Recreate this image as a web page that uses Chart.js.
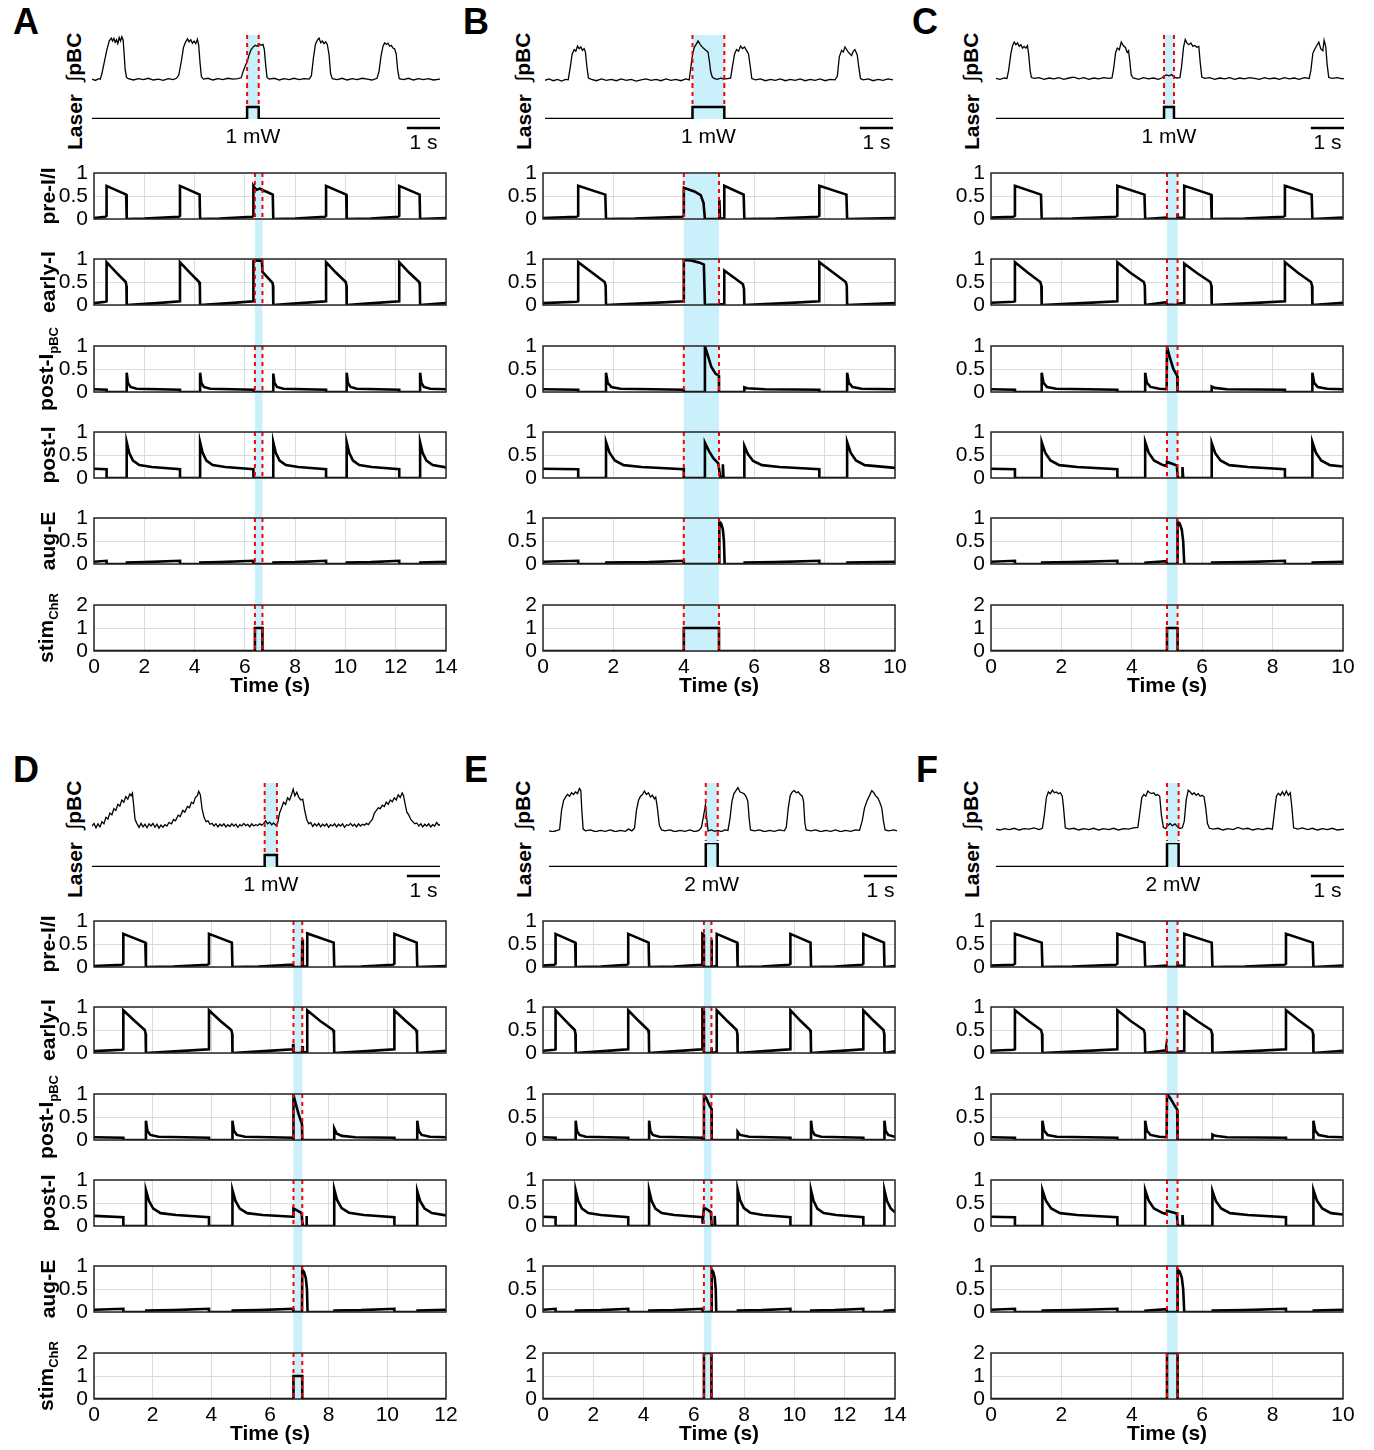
<!DOCTYPE html>
<html>
<head>
<meta charset="utf-8">
<title>Optogenetic stimulation of pBC: recordings and model traces</title>
<script src="https://cdn.jsdelivr.net/npm/chart.js@4.4.1/dist/chart.umd.min.js"></script>
<style>
  body { margin: 0; background: #fff; }
  #stage { position: relative; width: 1374px; height: 1450px; overflow: hidden;
           font-family: "Liberation Sans", Arial, sans-serif; color: #000; }
  #stage canvas { position: absolute; }
  .lbl { position: absolute; white-space: nowrap; line-height: 1; transform: translate(-50%, -50%); }
  .rot { transform: translate(-50%, -50%) rotate(-90deg); font-weight: bold; font-size: 21px; }
  .rot sub { font-size: 13px; vertical-align: -5px; }
  .big { font-size: 21px; }
  .letter { font-weight: bold; font-size: 36px; }
</style>
</head>
<body>
<div id="stage"></div>
<script>
// ---- panels, time ranges, stimulus windows ----
const panels = ['A', 'B', 'C', 'D', 'E', 'F'];
const timeMax = [14, 10, 10, 12, 14, 10];          // model time axis (s)
const stimOn = [6.4, 4.0, 5.0, 6.8, 6.4, 5.0];
const stimOff = [6.7, 5.0, 5.3, 7.1, 6.7, 5.3];
const stimLevel = [1, 1, 1, 1, 2, 2];
const laserOn = [4.68, 4.45, 5.07, 5.21, 4.73, 5.16];  // recording time (s)
const laserOff = [5.03, 5.41, 5.37, 5.58, 5.09, 5.51];
const laserPower = [1, 1, 1, 1, 2, 2];               // mW
const recordLength = 10.5;
const rowLabels = ['pre-I/I', 'early-I', 'post-I<sub>pBC</sub>', 'post-I', 'aug-E', 'stim<sub>ChR</sub>'];
const unitTicks = [0, 0.5, 1];
const stimTicks = [0, 1, 2];

// ---- integrated pBC recordings [t, a.u.] ----
const pbcA = [[0,0.02],[0.1,-0.01],[0.2,0.03],[0.25,0.02],[0.3,0.15],[0.38,0.45],[0.45,0.7],[0.52,0.9],[0.58,0.97],[0.62,0.9],[0.66,0.96],[0.7,0.87],[0.74,0.93],[0.78,0.84],[0.82,0.98],[0.86,0.9],[0.9,1.0],[0.94,0.92],[0.97,0.6],[1.0,0.25],[1.04,0.06],[1.1,0.03],[1.25,0.0],[1.4,0.03],[1.55,0.01],[1.7,0.04],[1.85,0.0],[2.0,0.02],[2.15,-0.01],[2.3,0.03],[2.45,0.01],[2.55,0.04],[2.62,0.12],[2.7,0.45],[2.76,0.75],[2.82,0.87],[2.88,0.95],[2.93,0.88],[2.98,0.93],[3.03,0.85],[3.08,0.9],[3.13,0.84],[3.18,0.94],[3.22,0.8],[3.26,0.4],[3.3,0.08],[3.36,0.02],[3.5,0.04],[3.65,0.0],[3.8,0.03],[3.95,0.01],[4.1,0.04],[4.25,0.02],[4.4,0.03],[4.5,0.05],[4.56,0.2],[4.62,0.32],[4.68,0.42],[4.74,0.58],[4.8,0.7],[4.86,0.76],[4.92,0.8],[4.98,0.78],[5.04,0.84],[5.1,0.8],[5.16,0.82],[5.2,0.7],[5.24,0.35],[5.28,0.06],[5.35,0.02],[5.5,0.04],[5.65,0.0],[5.8,0.03],[5.95,0.01],[6.1,0.04],[6.25,0.01],[6.4,0.03],[6.55,0.02],[6.62,0.1],[6.68,0.5],[6.74,0.82],[6.8,0.92],[6.85,0.97],[6.9,0.86],[6.95,0.9],[7.0,0.84],[7.05,0.88],[7.1,0.82],[7.15,0.6],[7.2,0.15],[7.25,0.03],[7.4,0.01],[7.55,0.04],[7.7,0.0],[7.85,0.03],[8.0,0.01],[8.15,0.04],[8.3,0.02],[8.45,0.0],[8.6,0.04],[8.66,0.2],[8.72,0.55],[8.78,0.78],[8.83,0.86],[8.88,0.82],[8.93,0.85],[8.98,0.78],[9.03,0.8],[9.08,0.74],[9.13,0.72],[9.18,0.6],[9.22,0.25],[9.27,0.03],[9.4,0.01],[9.55,0.04],[9.7,0.0],[9.85,0.03],[10.0,0.01],[10.15,0.03],[10.3,0.0],[10.5,0.02]];
const pbcB = [[0,0.01],[0.12,0.04],[0.25,0.0],[0.38,0.03],[0.5,-0.01],[0.62,0.03],[0.7,0.02],[0.76,0.3],[0.82,0.62],[0.88,0.72],[0.93,0.68],[0.98,0.8],[1.03,0.74],[1.08,0.78],[1.13,0.7],[1.18,0.74],[1.22,0.66],[1.26,0.35],[1.31,0.06],[1.4,0.03],[1.55,0.0],[1.7,0.04],[1.85,0.01],[2.0,0.03],[2.15,0.0],[2.3,0.04],[2.45,0.01],[2.6,0.03],[2.75,-0.01],[2.9,0.02],[3.05,0.04],[3.2,0.01],[3.35,0.03],[3.5,0.0],[3.65,0.04],[3.8,0.01],[3.95,0.03],[4.1,0.0],[4.25,0.04],[4.35,0.02],[4.4,0.3],[4.45,0.6],[4.5,0.76],[4.56,0.84],[4.62,0.92],[4.68,0.84],[4.74,0.78],[4.8,0.74],[4.86,0.7],[4.92,0.66],[4.96,0.45],[5.0,0.2],[5.05,0.08],[5.12,0.05],[5.2,0.03],[5.3,0.06],[5.4,0.04],[5.5,0.05],[5.6,0.06],[5.65,0.3],[5.72,0.62],[5.78,0.72],[5.84,0.68],[5.9,0.8],[5.96,0.74],[6.02,0.78],[6.08,0.7],[6.14,0.62],[6.19,0.35],[6.24,0.05],[6.35,0.02],[6.5,0.04],[6.65,0.0],[6.8,0.03],[6.95,0.01],[7.1,0.04],[7.25,0.0],[7.4,0.03],[7.55,0.01],[7.7,0.04],[7.85,0.0],[8.0,0.03],[8.15,0.01],[8.3,0.04],[8.45,0.0],[8.6,0.03],[8.75,0.02],[8.82,0.1],[8.88,0.55],[8.95,0.7],[9.0,0.66],[9.05,0.78],[9.1,0.72],[9.15,0.66],[9.2,0.62],[9.25,0.58],[9.3,0.68],[9.35,0.72],[9.42,0.6],[9.47,0.3],[9.52,0.05],[9.6,0.02],[9.75,0.04],[9.9,0.0],[10.05,0.03],[10.2,0.01],[10.35,0.04],[10.5,0.02]];
const pbcC = [[0,0.02],[0.12,0.0],[0.25,0.03],[0.33,0.02],[0.38,0.2],[0.45,0.6],[0.5,0.78],[0.55,0.86],[0.6,0.8],[0.65,0.84],[0.7,0.76],[0.75,0.8],[0.8,0.72],[0.85,0.76],[0.9,0.72],[0.95,0.78],[0.99,0.55],[1.03,0.2],[1.07,0.04],[1.15,0.02],[1.3,0.04],[1.45,0.0],[1.6,0.03],[1.75,0.01],[1.9,0.04],[2.05,0.0],[2.2,0.03],[2.35,0.05],[2.5,0.01],[2.65,0.04],[2.8,0.0],[2.95,0.03],[3.1,0.01],[3.25,0.04],[3.4,0.02],[3.5,0.03],[3.55,0.25],[3.61,0.62],[3.66,0.72],[3.72,0.68],[3.78,0.86],[3.84,0.78],[3.9,0.74],[3.96,0.62],[4.0,0.66],[4.04,0.4],[4.08,0.1],[4.14,0.03],[4.3,0.0],[4.45,0.04],[4.6,0.01],[4.75,0.03],[4.9,0.0],[5.0,0.03],[5.08,0.08],[5.15,0.1],[5.22,0.08],[5.3,0.11],[5.36,0.06],[5.45,0.03],[5.55,0.04],[5.6,0.3],[5.66,0.75],[5.71,0.92],[5.76,0.84],[5.82,0.8],[5.88,0.84],[5.94,0.76],[6.0,0.78],[6.06,0.74],[6.12,0.76],[6.16,0.4],[6.21,0.05],[6.3,0.02],[6.45,0.04],[6.6,0.0],[6.75,0.03],[6.9,0.01],[7.05,0.04],[7.2,0.0],[7.35,0.03],[7.5,0.01],[7.65,0.04],[7.8,0.02],[7.95,0.0],[8.1,0.04],[8.25,0.01],[8.4,0.03],[8.55,0.0],[8.7,0.04],[8.85,0.01],[9.0,0.03],[9.15,0.0],[9.3,0.04],[9.45,0.02],[9.5,0.2],[9.56,0.6],[9.62,0.7],[9.68,0.78],[9.74,0.86],[9.8,0.7],[9.86,0.66],[9.9,0.9],[9.95,0.75],[9.99,0.35],[10.04,0.04],[10.15,0.02],[10.3,0.04],[10.45,0.01],[10.5,0.02]];
const pbcD = [[0,0.0],[0.06,0.06],[0.12,-0.04],[0.18,0.05],[0.24,-0.02],[0.3,0.1],[0.36,0.05],[0.42,0.2],[0.48,0.16],[0.54,0.3],[0.6,0.26],[0.66,0.4],[0.72,0.36],[0.78,0.5],[0.84,0.46],[0.9,0.6],[0.96,0.55],[1.02,0.68],[1.08,0.62],[1.14,0.74],[1.18,0.7],[1.22,0.76],[1.26,0.45],[1.3,0.15],[1.36,0.05],[1.42,-0.03],[1.48,0.06],[1.54,-0.02],[1.6,0.04],[1.66,-0.04],[1.72,0.05],[1.78,0.0],[1.84,0.06],[1.9,-0.03],[1.96,0.04],[2.02,-0.05],[2.08,0.02],[2.14,-0.03],[2.2,0.03],[2.26,0.0],[2.32,0.08],[2.4,0.05],[2.46,0.15],[2.52,0.12],[2.6,0.25],[2.66,0.22],[2.74,0.36],[2.8,0.32],[2.88,0.45],[2.94,0.42],[3.0,0.55],[3.06,0.52],[3.12,0.66],[3.18,0.7],[3.22,0.8],[3.27,0.72],[3.32,0.4],[3.38,0.2],[3.44,0.1],[3.5,0.12],[3.56,0.04],[3.62,0.06],[3.68,0.0],[3.74,0.05],[3.8,-0.02],[3.86,0.04],[3.92,0.0],[3.98,0.05],[4.04,-0.02],[4.1,0.03],[4.16,-0.01],[4.22,0.05],[4.28,0.0],[4.34,0.04],[4.4,-0.03],[4.46,0.03],[4.52,0.0],[4.58,0.06],[4.64,0.01],[4.7,0.04],[4.76,-0.02],[4.82,0.05],[4.88,0.0],[4.94,0.03],[5.0,0.01],[5.06,0.05],[5.12,0.02],[5.18,0.06],[5.24,0.12],[5.3,0.05],[5.36,0.09],[5.42,0.03],[5.48,0.07],[5.54,0.02],[5.6,0.06],[5.66,0.3],[5.72,0.42],[5.78,0.55],[5.84,0.5],[5.9,0.65],[5.96,0.6],[6.02,0.72],[6.07,0.85],[6.12,0.7],[6.18,0.78],[6.24,0.66],[6.3,0.6],[6.36,0.62],[6.42,0.35],[6.48,0.15],[6.54,0.05],[6.6,0.08],[6.66,-0.01],[6.72,0.05],[6.78,0.0],[6.84,0.06],[6.9,-0.02],[6.96,0.04],[7.02,0.0],[7.08,0.05],[7.14,-0.03],[7.2,0.03],[7.26,0.0],[7.32,0.05],[7.38,-0.02],[7.44,0.04],[7.5,0.0],[7.56,0.05],[7.62,-0.03],[7.68,0.03],[7.74,0.01],[7.8,0.06],[7.86,0.0],[7.92,0.04],[7.98,-0.02],[8.04,0.05],[8.1,0.0],[8.16,0.04],[8.22,0.02],[8.28,0.06],[8.34,0.03],[8.4,0.1],[8.46,0.15],[8.52,0.3],[8.58,0.36],[8.64,0.42],[8.7,0.4],[8.76,0.48],[8.82,0.45],[8.88,0.55],[8.94,0.5],[9.0,0.6],[9.06,0.56],[9.12,0.65],[9.18,0.6],[9.24,0.72],[9.3,0.66],[9.36,0.76],[9.4,0.7],[9.45,0.5],[9.5,0.32],[9.56,0.25],[9.62,0.15],[9.68,0.1],[9.74,0.05],[9.8,0.07],[9.86,0.0],[9.92,0.05],[9.98,-0.02],[10.04,0.04],[10.1,0.0],[10.16,0.05],[10.22,-0.02],[10.28,0.03],[10.34,0.0],[10.4,0.08],[10.46,0.02],[10.5,0.03]];
const pbcE = [[0,0.02],[0.12,0.0],[0.25,0.03],[0.32,0.05],[0.38,0.5],[0.44,0.72],[0.5,0.8],[0.56,0.86],[0.62,0.82],[0.68,0.9],[0.74,0.86],[0.8,0.92],[0.86,0.88],[0.92,1.0],[0.96,0.95],[0.99,0.5],[1.03,0.06],[1.1,0.02],[1.25,0.04],[1.4,0.0],[1.55,0.03],[1.7,0.01],[1.85,0.04],[2.0,0.0],[2.15,0.03],[2.3,0.01],[2.4,0.06],[2.5,0.02],[2.58,0.08],[2.64,0.5],[2.7,0.72],[2.76,0.82],[2.82,0.86],[2.88,0.94],[2.94,0.86],[3.0,0.9],[3.06,0.8],[3.12,0.84],[3.18,0.76],[3.22,0.8],[3.27,0.55],[3.33,0.15],[3.4,0.04],[3.5,0.02],[3.65,0.04],[3.8,0.0],[3.95,0.03],[4.1,0.01],[4.25,0.04],[4.4,0.0],[4.52,0.03],[4.6,0.1],[4.66,0.35],[4.72,0.62],[4.76,0.3],[4.8,0.02],[4.9,0.04],[5.0,0.01],[5.1,0.03],[5.2,0.0],[5.3,0.04],[5.4,0.03],[5.46,0.3],[5.52,0.7],[5.58,0.88],[5.64,0.95],[5.7,1.02],[5.76,0.92],[5.82,0.9],[5.88,0.88],[5.94,0.82],[6.0,0.7],[6.04,0.3],[6.08,0.04],[6.2,0.02],[6.35,0.04],[6.5,0.0],[6.65,0.03],[6.8,0.01],[6.95,0.04],[7.1,0.02],[7.16,0.1],[7.22,0.55],[7.28,0.84],[7.34,0.92],[7.4,0.95],[7.46,0.9],[7.52,0.92],[7.58,0.86],[7.64,0.82],[7.68,0.7],[7.72,0.2],[7.76,0.04],[7.9,0.02],[8.05,0.04],[8.2,0.0],[8.35,0.03],[8.5,0.01],[8.65,0.04],[8.8,0.0],[8.95,0.03],[9.1,0.01],[9.25,0.04],[9.37,0.03],[9.45,0.25],[9.52,0.55],[9.6,0.72],[9.68,0.85],[9.74,0.95],[9.8,0.9],[9.86,0.82],[9.92,0.78],[9.98,0.68],[10.04,0.55],[10.09,0.25],[10.14,0.04],[10.25,0.02],[10.4,0.04],[10.5,0.02]];
const pbcF = [[0,0.02],[0.12,0.0],[0.25,0.03],[0.4,0.01],[0.55,0.04],[0.7,0.0],[0.85,0.03],[1.0,0.02],[1.15,0.05],[1.3,0.01],[1.4,0.04],[1.46,0.35],[1.52,0.75],[1.58,0.88],[1.64,0.84],[1.7,0.92],[1.76,0.86],[1.82,0.88],[1.88,0.84],[1.94,0.86],[2.0,0.78],[2.04,0.5],[2.09,0.05],[2.2,0.02],[2.35,0.04],[2.5,0.0],[2.65,0.03],[2.8,0.01],[2.95,0.04],[3.1,0.0],[3.25,0.03],[3.4,0.01],[3.55,0.04],[3.7,0.0],[3.85,0.03],[4.0,0.02],[4.15,0.05],[4.28,0.06],[4.34,0.4],[4.4,0.75],[4.46,0.82],[4.52,0.78],[4.58,0.9],[4.64,0.86],[4.7,0.84],[4.76,0.86],[4.82,0.8],[4.88,0.82],[4.94,0.78],[4.99,0.35],[5.05,0.06],[5.12,0.03],[5.18,0.1],[5.25,0.15],[5.32,0.1],[5.4,0.14],[5.47,0.08],[5.53,0.04],[5.62,0.05],[5.68,0.2],[5.74,0.7],[5.8,0.92],[5.86,0.88],[5.92,0.82],[5.98,0.86],[6.04,0.8],[6.1,0.84],[6.16,0.78],[6.22,0.8],[6.28,0.76],[6.33,0.5],[6.38,0.15],[6.44,0.04],[6.55,0.02],[6.7,0.04],[6.85,0.0],[7.0,0.03],[7.15,0.01],[7.3,0.06],[7.45,0.02],[7.6,0.04],[7.75,0.0],[7.9,0.03],[8.05,0.01],[8.2,0.04],[8.34,0.02],[8.4,0.4],[8.46,0.78],[8.52,0.85],[8.58,0.8],[8.64,0.88],[8.7,0.8],[8.76,0.9],[8.82,0.8],[8.88,0.86],[8.93,0.5],[8.98,0.05],[9.1,0.02],[9.25,0.05],[9.4,0.01],[9.55,0.04],[9.7,0.0],[9.85,0.03],[10.0,0.01],[10.15,0.04],[10.3,0.0],[10.5,0.02]];

// ---- model population activity [t, normalized] ----
const preI_A = [[0,0.02],[0.45,0.05],[0.5,0.07],[0.5,0.72],[1.28,0.53],[1.3,0],[2.0,0.01],[3.37,0.05],[3.42,0.07],[3.42,0.72],[4.2,0.53],[4.22,0],[5.0,0.01],[6.29,0.05],[6.34,0.07],[6.34,0.72],[6.45,0.63],[6.6,0.66],[6.75,0.62],[7.11,0.53],[7.13,0],[8.0,0.01],[9.18,0.05],[9.23,0.07],[9.23,0.72],[10.03,0.53],[10.05,0],[11.0,0.01],[12.09,0.05],[12.14,0.07],[12.14,0.72],[12.95,0.53],[12.97,0],[14,0.02]];
const earlyI_A = [[0,0.04],[0.45,0.07],[0.5,0.08],[0.5,0.93],[0.9,0.7],[1.26,0.5],[1.29,0.42],[1.3,0],[2.5,0.04],[3.42,0.08],[3.42,0.93],[3.82,0.7],[4.18,0.5],[4.21,0.42],[4.22,0],[5.4,0.04],[6.34,0.08],[6.34,0.95],[6.45,0.97],[6.68,0.96],[6.7,0.72],[6.9,0.6],[7.1,0.48],[7.12,0.42],[7.13,0],[8.2,0.04],[9.23,0.08],[9.23,0.93],[9.63,0.7],[10.01,0.5],[10.04,0.42],[10.05,0],[11.1,0.04],[12.14,0.08],[12.14,0.93],[12.54,0.7],[12.93,0.5],[12.96,0.42],[12.97,0],[14,0.04]];
const postIpbc_A = [[0,0.06],[0.5,0.05],[0.5,0],[1.3,0],[1.3,0.42],[1.35,0.2],[1.45,0.11],[1.7,0.07],[3.42,0.05],[3.42,0],[4.22,0],[4.22,0.42],[4.27,0.2],[4.37,0.11],[4.62,0.07],[6.34,0.05],[6.34,0],[7.13,0],[7.13,0.4],[7.18,0.2],[7.28,0.11],[7.53,0.07],[9.23,0.05],[9.23,0],[10.05,0],[10.05,0.42],[10.1,0.2],[10.2,0.11],[10.45,0.07],[12.14,0.05],[12.14,0],[12.97,0],[12.97,0.42],[13.02,0.2],[13.12,0.11],[13.37,0.07],[14,0.06]];
const postI_A = [[0,0.2],[0.5,0.19],[0.5,0],[1.3,0],[1.3,0.78],[1.4,0.55],[1.55,0.38],[1.8,0.28],[2.3,0.24],[3.42,0.19],[3.42,0],[4.22,0],[4.22,0.78],[4.32,0.55],[4.47,0.38],[4.72,0.28],[5.22,0.24],[6.34,0.19],[6.34,0],[7.13,0],[7.13,0.78],[7.23,0.55],[7.38,0.38],[7.63,0.28],[8.13,0.24],[9.23,0.19],[9.23,0],[10.05,0],[10.05,0.78],[10.15,0.55],[10.3,0.38],[10.55,0.28],[11.05,0.24],[12.14,0.19],[12.14,0],[12.97,0],[12.97,0.78],[13.07,0.55],[13.22,0.38],[13.47,0.28],[14,0.23]];
const augE_A = [[0,0.05],[0.5,0.07],[0.5,0],[1.3,0],[1.31,0.03],[2.0,0.04],[3.42,0.07],[3.42,0],[4.22,0],[4.23,0.03],[5.0,0.04],[6.34,0.07],[6.34,0],[7.13,0],[7.14,0.03],[8.0,0.04],[9.23,0.07],[9.23,0],[10.05,0],[10.06,0.03],[11.0,0.04],[12.14,0.07],[12.14,0],[12.97,0],[12.98,0.03],[14,0.05]];

const preI_B = [[0,0.02],[0.95,0.05],[1.0,0.07],[1.0,0.72],[1.77,0.53],[1.79,0],[2.6,0.01],[3.95,0.05],[4.0,0.07],[4.0,0.68],[4.3,0.6],[4.48,0.52],[4.56,0.35],[4.6,0],[5.0,0],[5.01,0.42],[5.03,0],[5.15,0.02],[5.15,0.72],[5.7,0.53],[5.72,0],[6.6,0.01],[7.8,0.05],[7.85,0.07],[7.85,0.72],[8.62,0.53],[8.64,0],[10,0.02]];
const earlyI_B = [[0,0.04],[0.95,0.07],[1.0,0.08],[1.0,0.93],[1.4,0.7],[1.75,0.5],[1.78,0.42],[1.79,0],[3.0,0.04],[4.0,0.08],[4.0,0.98],[4.2,0.97],[4.45,0.92],[4.57,0.88],[4.6,0],[5.0,0.01],[5.15,0.02],[5.15,0.75],[5.45,0.58],[5.68,0.45],[5.71,0.35],[5.72,0],[6.9,0.04],[7.85,0.08],[7.85,0.93],[8.25,0.7],[8.6,0.5],[8.63,0.42],[8.64,0],[10,0.04]];
const postIpbc_B = [[0,0.06],[1.0,0.05],[1.0,0],[1.79,0],[1.79,0.42],[1.84,0.2],[1.94,0.11],[2.2,0.07],[4.0,0.05],[4.0,0],[4.6,0],[4.6,1.0],[4.68,0.8],[4.78,0.55],[4.9,0.4],[5.0,0.35],[5.0,0],[5.72,0],[5.72,0.1],[5.8,0.08],[6.3,0.06],[7.85,0.05],[7.85,0],[8.64,0],[8.64,0.42],[8.69,0.2],[8.79,0.11],[9.05,0.07],[10,0.06]];
const postI_B = [[0,0.2],[1.0,0.19],[1.0,0],[1.79,0],[1.79,0.78],[1.89,0.55],[2.04,0.38],[2.29,0.28],[2.8,0.24],[4.0,0.19],[4.0,0],[4.6,0],[4.6,0.77],[4.72,0.58],[4.85,0.42],[4.98,0.32],[5.02,0.1],[5.04,0],[5.1,0],[5.11,0.3],[5.13,0],[5.72,0],[5.72,0.7],[5.82,0.52],[5.97,0.37],[6.22,0.28],[6.72,0.24],[7.85,0.19],[7.85,0],[8.64,0],[8.64,0.78],[8.74,0.55],[8.89,0.38],[9.14,0.28],[10,0.22]];
const augE_B = [[0,0.05],[1.0,0.07],[1.0,0],[1.79,0],[1.8,0.03],[3.0,0.04],[4.0,0.07],[4.0,0],[5.0,0],[5.01,0.92],[5.06,0.88],[5.11,0.75],[5.14,0.5],[5.16,0],[5.72,0],[5.73,0.03],[6.6,0.04],[7.85,0.07],[7.85,0],[8.64,0],[8.65,0.03],[10,0.05]];

const preI_C = [[0,0.03],[0.63,0.05],[0.68,0.07],[0.68,0.72],[1.42,0.53],[1.44,0],[2.3,0.01],[3.54,0.05],[3.59,0.07],[3.59,0.72],[4.36,0.53],[4.38,0],[4.98,0.03],[5.0,0],[5.29,0],[5.3,0.12],[5.32,0.02],[5.49,0.03],[5.49,0.72],[6.25,0.53],[6.27,0],[7.2,0.01],[8.3,0.05],[8.35,0.07],[8.35,0.72],[9.11,0.53],[9.13,0],[10,0.03]];
const earlyI_C = [[0,0.05],[0.63,0.07],[0.68,0.08],[0.68,0.93],[1.05,0.7],[1.4,0.5],[1.43,0.42],[1.44,0],[2.6,0.04],[3.59,0.08],[3.59,0.93],[3.96,0.7],[4.34,0.5],[4.37,0.42],[4.38,0],[4.98,0.06],[5.0,0.01],[5.29,0],[5.31,0.03],[5.49,0.04],[5.49,0.9],[5.86,0.69],[6.23,0.5],[6.26,0.42],[6.27,0],[7.4,0.04],[8.35,0.08],[8.35,0.93],[8.72,0.7],[9.09,0.5],[9.12,0.42],[9.13,0],[10,0.05]];
const postIpbc_C = [[0,0.06],[0.68,0.05],[0.68,0],[1.44,0],[1.44,0.42],[1.49,0.2],[1.59,0.11],[1.85,0.07],[3.59,0.05],[3.59,0],[4.38,0],[4.38,0.42],[4.43,0.2],[4.53,0.11],[4.78,0.07],[4.99,0.06],[5.0,0.98],[5.08,0.75],[5.18,0.5],[5.29,0.35],[5.3,0],[6.27,0],[6.27,0.12],[6.35,0.09],[6.7,0.06],[8.35,0.05],[8.35,0],[9.13,0],[9.13,0.42],[9.18,0.2],[9.28,0.11],[9.55,0.07],[10,0.06]];
const postI_C = [[0,0.2],[0.68,0.19],[0.68,0],[1.44,0],[1.44,0.78],[1.54,0.55],[1.69,0.38],[1.94,0.28],[2.45,0.24],[3.59,0.19],[3.59,0],[4.38,0],[4.38,0.78],[4.48,0.55],[4.63,0.38],[4.88,0.28],[4.99,0.26],[5.0,0.35],[5.15,0.31],[5.28,0.27],[5.3,0.05],[5.31,0],[5.43,0],[5.44,0.24],[5.46,0],[6.27,0],[6.27,0.76],[6.37,0.54],[6.52,0.38],[6.77,0.28],[7.3,0.24],[8.35,0.19],[8.35,0],[9.13,0],[9.13,0.78],[9.23,0.55],[9.38,0.38],[9.63,0.28],[10,0.25]];
const augE_C = [[0,0.05],[0.68,0.07],[0.68,0],[1.44,0],[1.45,0.03],[2.3,0.04],[3.59,0.07],[3.59,0],[4.38,0],[4.39,0.03],[4.99,0.06],[5.0,0],[5.29,0],[5.3,0.92],[5.36,0.88],[5.42,0.75],[5.46,0.5],[5.49,0],[6.27,0],[6.28,0.03],[7.2,0.04],[8.35,0.07],[8.35,0],[9.13,0],[9.14,0.03],[10,0.05]];

const preI_D = [[0,0.02],[0.95,0.05],[1.0,0.07],[1.0,0.72],[1.75,0.53],[1.77,0],[2.7,0.01],[3.87,0.05],[3.92,0.07],[3.92,0.72],[4.7,0.53],[4.72,0],[5.6,0.01],[6.78,0.05],[6.8,0],[7.09,0],[7.1,0.6],[7.12,0],[7.27,0.02],[7.27,0.73],[8.17,0.53],[8.19,0],[9.1,0.01],[10.19,0.05],[10.24,0.07],[10.24,0.72],[11.0,0.53],[11.02,0],[12,0.02]];
const earlyI_D = [[0,0.04],[0.95,0.07],[1.0,0.08],[1.0,0.93],[1.38,0.7],[1.73,0.5],[1.76,0.42],[1.77,0],[2.9,0.04],[3.92,0.08],[3.92,0.93],[4.3,0.7],[4.68,0.5],[4.71,0.42],[4.72,0],[5.8,0.04],[6.78,0.08],[6.79,0.2],[6.8,0],[7.09,0],[7.1,0.15],[7.12,0.01],[7.27,0.02],[7.27,0.93],[7.7,0.7],[8.15,0.5],[8.18,0.42],[8.19,0],[9.3,0.04],[10.24,0.08],[10.24,0.93],[10.62,0.7],[10.98,0.5],[11.01,0.42],[11.02,0],[12,0.05]];
const postIpbc_D = [[0,0.06],[1.0,0.05],[1.0,0],[1.77,0],[1.77,0.42],[1.82,0.2],[1.92,0.11],[2.2,0.07],[3.92,0.05],[3.92,0],[4.72,0],[4.72,0.42],[4.77,0.2],[4.87,0.11],[5.15,0.07],[6.79,0.05],[6.8,0],[6.8,0.98],[6.88,0.78],[6.98,0.55],[7.09,0.35],[7.1,0],[8.19,0],[8.19,0.25],[8.27,0.14],[8.45,0.09],[8.9,0.06],[10.24,0.05],[10.24,0],[11.02,0],[11.02,0.42],[11.07,0.2],[11.17,0.11],[11.45,0.07],[12,0.06]];
const postI_D = [[0,0.22],[1.0,0.19],[1.0,0],[1.77,0],[1.77,0.78],[1.87,0.55],[2.02,0.38],[2.27,0.28],[2.8,0.24],[3.92,0.19],[3.92,0],[4.72,0],[4.72,0.78],[4.82,0.55],[4.97,0.38],[5.22,0.28],[5.75,0.24],[6.79,0.2],[6.8,0.38],[6.95,0.33],[7.08,0.28],[7.1,0.08],[7.11,0],[7.23,0],[7.24,0.22],[7.26,0],[8.19,0],[8.19,0.8],[8.29,0.56],[8.44,0.39],[8.69,0.29],[9.2,0.24],[10.24,0.19],[10.24,0],[11.02,0],[11.02,0.76],[11.12,0.54],[11.27,0.38],[11.52,0.28],[12,0.23]];
const augE_D = [[0,0.05],[1.0,0.07],[1.0,0],[1.77,0],[1.78,0.03],[2.7,0.04],[3.92,0.07],[3.92,0],[4.72,0],[4.73,0.03],[5.6,0.04],[6.79,0.07],[6.8,0],[7.09,0],[7.1,0.92],[7.16,0.87],[7.22,0.74],[7.26,0.5],[7.28,0],[8.19,0],[8.2,0.03],[9.1,0.04],[10.24,0.07],[10.24,0],[11.02,0],[11.03,0.03],[12,0.05]];

const preI_E = [[0,0.03],[0.45,0.05],[0.5,0.07],[0.5,0.72],[1.28,0.53],[1.3,0],[2.3,0.01],[3.34,0.05],[3.39,0.07],[3.39,0.72],[4.2,0.53],[4.22,0],[5.2,0.01],[6.3,0.05],[6.34,0.07],[6.34,0.72],[6.39,0.7],[6.4,0],[6.69,0],[6.7,0.6],[6.72,0],[6.91,0.02],[6.91,0.72],[7.72,0.53],[7.74,0],[8.7,0.01],[9.79,0.05],[9.84,0.07],[9.84,0.72],[10.64,0.53],[10.66,0],[11.6,0.01],[12.69,0.05],[12.74,0.07],[12.74,0.72],[13.56,0.53],[13.58,0],[14,0.02]];
const earlyI_E = [[0,0.05],[0.45,0.07],[0.5,0.08],[0.5,0.93],[0.9,0.7],[1.26,0.5],[1.29,0.42],[1.3,0],[2.4,0.04],[3.39,0.08],[3.39,0.93],[3.8,0.7],[4.18,0.5],[4.21,0.42],[4.22,0],[5.3,0.04],[6.34,0.08],[6.34,0.95],[6.39,0.95],[6.4,0],[6.69,0],[6.7,0.12],[6.72,0],[6.91,0.02],[6.91,0.93],[7.32,0.7],[7.7,0.5],[7.73,0.42],[7.74,0],[8.8,0.04],[9.84,0.08],[9.84,0.93],[10.24,0.7],[10.62,0.5],[10.65,0.42],[10.66,0],[11.7,0.04],[12.74,0.08],[12.74,0.93],[13.15,0.7],[13.54,0.5],[13.57,0.42],[13.58,0],[14,0.04]];
const postIpbc_E = [[0,0.06],[0.5,0.05],[0.5,0],[1.3,0],[1.3,0.42],[1.35,0.2],[1.45,0.11],[1.7,0.07],[3.39,0.05],[3.39,0],[4.22,0],[4.22,0.42],[4.27,0.2],[4.37,0.11],[4.62,0.07],[6.34,0.05],[6.34,0],[6.4,0],[6.4,0.98],[6.5,0.9],[6.62,0.75],[6.7,0.68],[6.71,0],[7.74,0],[7.74,0.18],[7.84,0.11],[8.2,0.07],[9.84,0.05],[9.84,0],[10.66,0],[10.66,0.42],[10.71,0.2],[10.81,0.11],[11.06,0.07],[12.74,0.05],[12.74,0],[13.58,0],[13.58,0.42],[13.63,0.2],[13.73,0.11],[14,0.07]];
const postI_E = [[0,0.2],[0.5,0.19],[0.5,0],[1.3,0],[1.3,0.78],[1.4,0.55],[1.55,0.38],[1.8,0.28],[2.3,0.24],[3.39,0.19],[3.39,0],[4.22,0],[4.22,0.78],[4.32,0.55],[4.47,0.38],[4.72,0.28],[5.22,0.24],[6.34,0.19],[6.35,0.05],[6.4,0.4],[6.55,0.35],[6.68,0.3],[6.7,0.05],[6.71,0],[6.82,0],[6.83,0.22],[6.85,0],[7.74,0],[7.74,0.8],[7.84,0.56],[7.99,0.39],[8.24,0.29],[8.75,0.24],[9.84,0.19],[9.84,0],[10.66,0],[10.66,0.78],[10.76,0.55],[10.91,0.38],[11.16,0.28],[11.66,0.24],[12.74,0.19],[12.74,0],[13.58,0],[13.58,0.78],[13.68,0.55],[13.83,0.38],[14,0.3]];
const augE_E = [[0,0.05],[0.5,0.07],[0.5,0],[1.3,0],[1.31,0.03],[2.3,0.04],[3.39,0.07],[3.39,0],[4.22,0],[4.23,0.03],[5.2,0.04],[6.34,0.07],[6.35,0],[6.7,0],[6.71,0.92],[6.77,0.87],[6.83,0.74],[6.87,0.5],[6.89,0],[7.74,0],[7.75,0.03],[8.7,0.04],[9.84,0.07],[9.84,0],[10.66,0],[10.67,0.03],[11.6,0.04],[12.74,0.07],[12.74,0],[13.58,0],[13.59,0.03],[14,0.04]];

const preI_F = [[0,0.03],[0.63,0.05],[0.68,0.07],[0.68,0.72],[1.44,0.53],[1.46,0],[2.3,0.01],[3.54,0.05],[3.59,0.07],[3.59,0.72],[4.36,0.53],[4.38,0],[4.98,0.03],[5.0,0],[5.29,0],[5.3,0.12],[5.32,0.02],[5.49,0.03],[5.49,0.72],[6.27,0.53],[6.29,0],[7.2,0.01],[8.33,0.05],[8.38,0.07],[8.38,0.72],[9.14,0.53],[9.16,0],[10,0.03]];
const earlyI_F = [[0,0.05],[0.63,0.07],[0.68,0.08],[0.68,0.93],[1.06,0.7],[1.42,0.5],[1.45,0.42],[1.46,0],[2.6,0.04],[3.59,0.08],[3.59,0.93],[3.96,0.7],[4.34,0.5],[4.37,0.42],[4.38,0],[4.97,0.06],[4.98,0.13],[5.0,0.01],[5.29,0],[5.31,0.03],[5.49,0.04],[5.49,0.9],[5.87,0.69],[6.25,0.5],[6.28,0.42],[6.29,0],[7.4,0.04],[8.38,0.08],[8.38,0.93],[8.76,0.7],[9.12,0.5],[9.15,0.42],[9.16,0],[10,0.05]];
const postIpbc_F = [[0,0.06],[0.68,0.05],[0.68,0],[1.46,0],[1.46,0.42],[1.51,0.2],[1.61,0.11],[1.87,0.07],[3.59,0.05],[3.59,0],[4.38,0],[4.38,0.42],[4.43,0.2],[4.53,0.11],[4.78,0.07],[4.99,0.06],[5.0,1.0],[5.1,0.9],[5.2,0.77],[5.29,0.66],[5.3,0],[6.29,0],[6.29,0.12],[6.37,0.09],[6.7,0.06],[8.38,0.05],[8.38,0],[9.16,0],[9.16,0.42],[9.21,0.2],[9.31,0.11],[9.57,0.07],[10,0.06]];
const postI_F = [[0,0.2],[0.68,0.19],[0.68,0],[1.46,0],[1.46,0.78],[1.56,0.55],[1.71,0.38],[1.96,0.28],[2.45,0.24],[3.59,0.19],[3.59,0],[4.38,0],[4.38,0.78],[4.48,0.55],[4.63,0.38],[4.88,0.28],[4.99,0.26],[5.0,0.33],[5.15,0.3],[5.28,0.27],[5.3,0.05],[5.31,0],[5.43,0],[5.44,0.24],[5.46,0],[6.29,0],[6.29,0.76],[6.39,0.54],[6.54,0.38],[6.79,0.28],[7.3,0.24],[8.38,0.19],[8.38,0],[9.16,0],[9.16,0.78],[9.26,0.55],[9.41,0.38],[9.66,0.28],[10,0.25]];
const augE_F = [[0,0.05],[0.68,0.07],[0.68,0],[1.46,0],[1.47,0.03],[2.3,0.04],[3.59,0.07],[3.59,0],[4.38,0],[4.39,0.03],[4.99,0.06],[5.0,0],[5.29,0],[5.3,0.92],[5.36,0.88],[5.42,0.75],[5.46,0.5],[5.49,0],[6.29,0],[6.3,0.03],[7.2,0.04],[8.38,0.07],[8.38,0],[9.16,0],[9.17,0.03],[10,0.05]];

// ---- layout (px) ----
const COL_X = [94, 543, 991, 94, 543, 991];      // left edge of model plot areas
const ROW_Y = [0, 0, 0, 748, 748, 748];
const TOP_X = [92, 545, 996, 92, 549, 996];      // left edge of recording traces
const PBC_BASE = [80, 80.7, 79.3, 78, 83.7, 82]; // baseline height of each recording
const LETTER_X = [26, 476, 925, 26, 476, 927];
const PLOT_TOPS = [173, 259, 346, 432, 518, 605];
const PLOT_W = 352, PLOT_H = 46, TOP_W = 348, PBC_PX = 43.3, MW_PX = 12;
const BAND = '#c9f0fb', RED = '#ff0000', GRID = '#dcdcdc', BOX = '#262626';
const FONT = '"Liberation Sans", Arial, sans-serif';

Chart.defaults.font.family = FONT;
Chart.defaults.color = '#000';

const pbcSeries = [pbcA, pbcB, pbcC, pbcD, pbcE, pbcF];
const modelSeries = [
  [preI_A, earlyI_A, postIpbc_A, postI_A, augE_A],
  [preI_B, earlyI_B, postIpbc_B, postI_B, augE_B],
  [preI_C, earlyI_C, postIpbc_C, postI_C, augE_C],
  [preI_D, earlyI_D, postIpbc_D, postI_D, augE_D],
  [preI_E, earlyI_E, postIpbc_E, postI_E, augE_E],
  [preI_F, earlyI_F, postIpbc_F, postI_F, augE_F]
];

const stage = document.getElementById('stage');

function canvasAt(left, top, w, h) {
  const c = document.createElement('canvas');
  c.width = w; c.height = h;
  c.style.left = left + 'px'; c.style.top = top + 'px';
  c.style.width = w + 'px'; c.style.height = h + 'px';
  stage.appendChild(c);
  return c;
}

function label(html, x, y, cls) {
  const d = document.createElement('div');
  d.className = cls;
  d.innerHTML = html;
  d.style.left = x + 'px'; d.style.top = y + 'px';
  stage.appendChild(d);
}

function dotted(ctx, x, y0, y1) {
  ctx.save();
  ctx.strokeStyle = RED; ctx.lineWidth = 2; ctx.setLineDash([4, 4]);
  ctx.beginPath(); ctx.moveTo(x, y0); ctx.lineTo(x, y1); ctx.stroke();
  ctx.restore();
}

const baseOpts = () => ({
  responsive: false, animation: false, events: [],
  plugins: { legend: { display: false }, tooltip: { enabled: false } }
});

function lineSet(data, width) {
  return { data, borderColor: '#000', borderWidth: width, pointRadius: 0, tension: 0, fill: false };
}

// recording trace and laser command above each column
function recordingCharts(k) {
  const rowY = ROW_Y[k], x0 = TOP_X[k], base = PBC_BASE[k];
  const on = laserOn[k], off = laserOff[k], mw = laserPower[k];

  const c1 = canvasAt(x0 - 10, rowY + 25, TOP_W + 20, 59);
  new Chart(c1, {
    type: 'line',
    data: { datasets: [lineSet(pbcSeries[k], 1.3)] },
    options: Object.assign(baseOpts(), {
      layout: { padding: { left: 10, right: 10, top: 2, bottom: 0 } },
      scales: {
        x: { type: 'linear', display: false, min: 0, max: recordLength },
        y: { display: false, min: -(84 - base) / PBC_PX, max: (base - 27) / PBC_PX }
      }
    }),
    plugins: [{
      id: 'pbcStim',
      beforeDatasetsDraw(chart) {
        const { ctx, scales: { x } } = chart;
        const a = x.getPixelForValue(on), b = x.getPixelForValue(off);
        ctx.save(); ctx.fillStyle = BAND;
        ctx.fillRect(a, 10, b - a, chart.height - 10);
        ctx.restore();
      },
      afterDatasetsDraw(chart) {
        const { ctx, scales: { x } } = chart;
        dotted(ctx, x.getPixelForValue(on), 10, chart.height);
        dotted(ctx, x.getPixelForValue(off), 10, chart.height);
      }
    }]
  });

  const laser = [[0, 0], [on, 0], [on, mw], [off, mw], [off, 0], [recordLength, 0]];
  const c2 = canvasAt(x0 - 10, rowY + 84, TOP_W + 20, 72);
  new Chart(c2, {
    type: 'line',
    data: { datasets: [lineSet(laser, 2.5)] },
    options: Object.assign(baseOpts(), {
      layout: { padding: { left: 10, right: 10, top: 11, bottom: 37 } },
      scales: {
        x: { type: 'linear', display: false, min: 0, max: recordLength },
        y: { display: false, min: 0, max: 24 / MW_PX }
      }
    }),
    plugins: [{
      id: 'laserStim',
      beforeDatasetsDraw(chart) {
        const { ctx, scales: { x, y } } = chart;
        const a = x.getPixelForValue(on), b = x.getPixelForValue(off);
        ctx.save(); ctx.fillStyle = BAND;
        ctx.fillRect(a, 0, b - a, y.getPixelForValue(0));
        ctx.restore();
      },
      afterDatasetsDraw(chart) {
        const { ctx, scales: { x, y } } = chart;
        const a = x.getPixelForValue(on), b = x.getPixelForValue(off);
        const top = y.getPixelForValue(mw) - 2;
        dotted(ctx, a, 0, top);
        dotted(ctx, b, 0, top);
        // 1 s scale bar at the right end
        const s0 = x.getPixelForValue(recordLength - 1), s1 = x.getPixelForValue(recordLength);
        ctx.save();
        ctx.strokeStyle = '#000'; ctx.lineWidth = 2.5;
        ctx.beginPath(); ctx.moveTo(s0, 44); ctx.lineTo(s1, 44); ctx.stroke();
        ctx.fillStyle = '#000';
        ctx.font = '21px ' + FONT;
        ctx.textAlign = 'center'; ctx.textBaseline = 'middle';
        ctx.fillText('1 s', (s0 + s1) / 2, 59);
        ctx.fillText(mw + ' mW', (a + b) / 2, 53);
        ctx.restore();
      }
    }]
  });
}

// one model population (or the stimulus) of a column
function modelChart(k, i) {
  const rowY = ROW_Y[k];
  const top = rowY + PLOT_TOPS[i];
  const last = i === 5;
  const cTop = i === 0 ? top - 16 : rowY + PLOT_TOPS[i - 1] + PLOT_H;
  const cBottom = top + PLOT_H + (last ? 50 : 14);
  const on = stimOn[k], off = stimOff[k];
  const data = last
    ? [[0, 0], [on, 0], [on, stimLevel[k]], [off, stimLevel[k]], [off, 0], [timeMax[k], 0]]
    : modelSeries[k][i];
  const ticks = last ? stimTicks : unitTicks;
  const tickFont = { size: 21 };

  const c = canvasAt(COL_X[k] - 64, cTop, 64 + PLOT_W + 18, cBottom - cTop);
  new Chart(c, {
    type: 'line',
    data: { datasets: [lineSet(data, 2.6)] },
    options: Object.assign(baseOpts(), {
      layout: { padding: { left: 0, right: 18, top: top - cTop, bottom: last ? 2 : 14 } },
      scales: {
        x: {
          type: 'linear', min: 0, max: timeMax[k],
          border: { display: false },
          grid: { color: GRID, lineWidth: 1, drawTicks: false },
          ticks: { display: last, stepSize: 2, autoSkip: false, padding: 4, font: tickFont, maxRotation: 0,
                   callback: v => String(v) },
          title: { display: last, text: 'Time (s)', padding: 0, font: { size: 21, weight: 'bold' } },
          afterFit(s) { s.height = last ? 48 : 0; s.paddingLeft = 0; s.paddingRight = 0; }
        },
        y: {
          min: ticks[0], max: ticks[ticks.length - 1],
          border: { display: false },
          grid: { color: GRID, lineWidth: 1, drawTicks: false },
          ticks: { stepSize: ticks[1] - ticks[0], autoSkip: false, padding: 6, font: tickFont,
                   callback: v => String(v) },
          afterFit(s) { s.width = 64; s.paddingTop = 0; s.paddingBottom = 0; }
        }
      }
    }),
    plugins: [{
      id: 'modelStim',
      beforeDatasetsDraw(chart) {
        const { ctx, chartArea: ar, scales: { x } } = chart;
        const a = x.getPixelForValue(on), b = x.getPixelForValue(off);
        const y0 = i === 0 ? ar.top : 1;
        ctx.save(); ctx.fillStyle = BAND;
        ctx.fillRect(a, y0, b - a, ar.bottom - y0);
        ctx.restore();
      },
      afterDatasetsDraw(chart) {
        const { ctx, chartArea: ar, scales: { x } } = chart;
        dotted(ctx, x.getPixelForValue(on), ar.top, ar.bottom);
        dotted(ctx, x.getPixelForValue(off), ar.top, ar.bottom);
        ctx.save();
        ctx.strokeStyle = BOX; ctx.lineWidth = 1.5;
        ctx.strokeRect(ar.left, ar.top, ar.right - ar.left, ar.bottom - ar.top);
        ctx.restore();
      }
    }]
  });
}

panels.forEach((p, k) => {
  const rowY = ROW_Y[k];
  label(p, LETTER_X[k], rowY + 22, 'lbl letter');
  label('<span style="font-weight:normal">&#8747;</span>pBC', COL_X[k] - 21, rowY + 57, 'lbl rot big');
  label('Laser', COL_X[k] - 20, rowY + 122, 'lbl rot big');
  recordingCharts(k);
  for (let i = 0; i < 6; i++) modelChart(k, i);
  if (k % 3 === 0) {
    rowLabels.forEach((t, i) => label(t, 47, rowY + PLOT_TOPS[i] + PLOT_H / 2, 'lbl rot'));
  }
});
</script>
</body>
</html>
